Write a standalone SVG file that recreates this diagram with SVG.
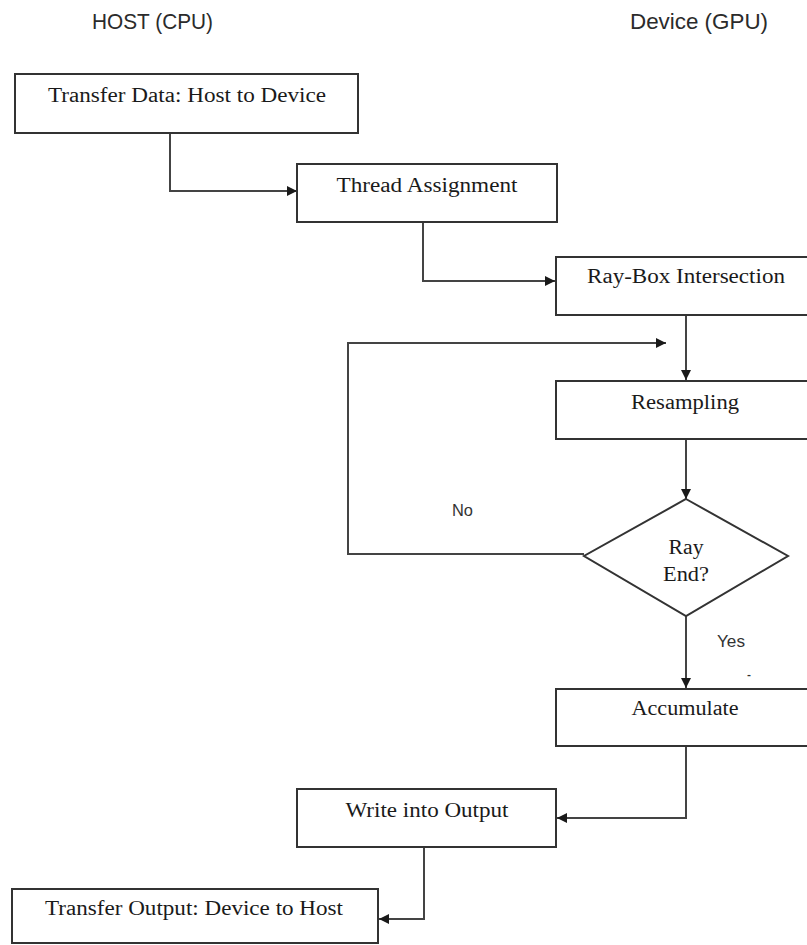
<svg xmlns="http://www.w3.org/2000/svg" width="807" height="945" viewBox="0 0 807 945">
  <defs>
    <marker id="arrow" viewBox="0 0 10 10" refX="10" refY="5" markerWidth="12" markerHeight="10" markerUnits="userSpaceOnUse" orient="auto">
      <path d="M0,0 L10,5 L0,10 Z" fill="#1a1a1a"/>
    </marker>
    <style>
      .box { fill: #fff; stroke: #333; stroke-width: 2; }
      .lbl { font-family: "Liberation Serif", "Times New Roman", serif; font-size: 20px; fill: #1a1a1a; text-anchor: middle; }
      .hdr { font-family: "Liberation Sans", Arial, sans-serif; font-size: 21.5px; fill: #2b2b2b; }
      .tag { font-family: "Liberation Sans", Arial, sans-serif; font-size: 17px; fill: #333; }
      .link { fill: none; stroke: #444; stroke-width: 2; }
    </style>
  </defs>
  <rect width="807" height="945" fill="#fff"/>

  <!-- column headings -->
  <text class="hdr" x="92" y="29" textLength="121" lengthAdjust="spacingAndGlyphs">HOST (CPU)</text>
  <text class="hdr" x="630" y="29" textLength="138" lengthAdjust="spacingAndGlyphs">Device (GPU)</text>

  <!-- connectors -->
  <g id="connectors">
    <polyline class="link" points="170,133 170,191 297,191" marker-end="url(#arrow)"/>
    <polyline class="link" points="423,222 423,281 555,281" marker-end="url(#arrow)"/>
    <line class="link" x1="686" y1="315" x2="686" y2="380" marker-end="url(#arrow)"/>
    <line class="link" x1="686" y1="439" x2="686" y2="499" marker-end="url(#arrow)"/>
    <polyline class="link" points="584,554 348,554 348,343 666,343" marker-end="url(#arrow)"/>
    <line class="link" x1="686" y1="616" x2="686" y2="688" marker-end="url(#arrow)"/>
    <polyline class="link" points="686,746 686,818 557,818" marker-end="url(#arrow)"/>
    <polyline class="link" points="424,847 424,919 379,919" marker-end="url(#arrow)"/>
    <text class="tag" x="452" y="516" textLength="21" lengthAdjust="spacingAndGlyphs">No</text>
    <text class="tag" x="717" y="647" textLength="28" lengthAdjust="spacingAndGlyphs">Yes</text>
    <text class="tag" x="747" y="680" textLength="4" lengthAdjust="spacingAndGlyphs">-</text>
  </g>

  <g id="transfer-in">
    <rect class="box" x="15" y="74" width="343" height="59"/>
    <text class="lbl" x="187" y="102" textLength="278" lengthAdjust="spacingAndGlyphs">Transfer Data: Host to Device</text>
  </g>

  <g id="thread-assignment">
    <rect class="box" x="297" y="164" width="260" height="58"/>
    <text class="lbl" x="427" y="192" textLength="181" lengthAdjust="spacingAndGlyphs">Thread Assignment</text>
  </g>

  <g id="ray-box">
    <rect class="box" x="556" y="257" width="260" height="58"/>
    <text class="lbl" x="686" y="283" textLength="198" lengthAdjust="spacingAndGlyphs">Ray-Box Intersection</text>
  </g>

  <g id="resampling">
    <rect class="box" x="556" y="381" width="260" height="58"/>
    <text class="lbl" x="685" y="409" textLength="108" lengthAdjust="spacingAndGlyphs">Resampling</text>
  </g>

  <g id="ray-end">
    <polygon class="box" points="686,499 788,556 686,616 584,556"/>
    <text class="lbl" x="686" y="554" textLength="35" lengthAdjust="spacingAndGlyphs">Ray</text>
    <text class="lbl" x="686" y="581" textLength="46" lengthAdjust="spacingAndGlyphs">End?</text>
  </g>

  <g id="accumulate">
    <rect class="box" x="556" y="689" width="260" height="57"/>
    <text class="lbl" x="685" y="715" textLength="107" lengthAdjust="spacingAndGlyphs">Accumulate</text>
  </g>

  <g id="write-output">
    <rect class="box" x="297" y="789" width="259" height="58"/>
    <text class="lbl" x="427" y="817" textLength="163" lengthAdjust="spacingAndGlyphs">Write into Output</text>
  </g>

  <g id="transfer-out">
    <rect class="box" x="12" y="889" width="366" height="54"/>
    <text class="lbl" x="194" y="915" textLength="298" lengthAdjust="spacingAndGlyphs">Transfer Output: Device to Host</text>
  </g>
</svg>
